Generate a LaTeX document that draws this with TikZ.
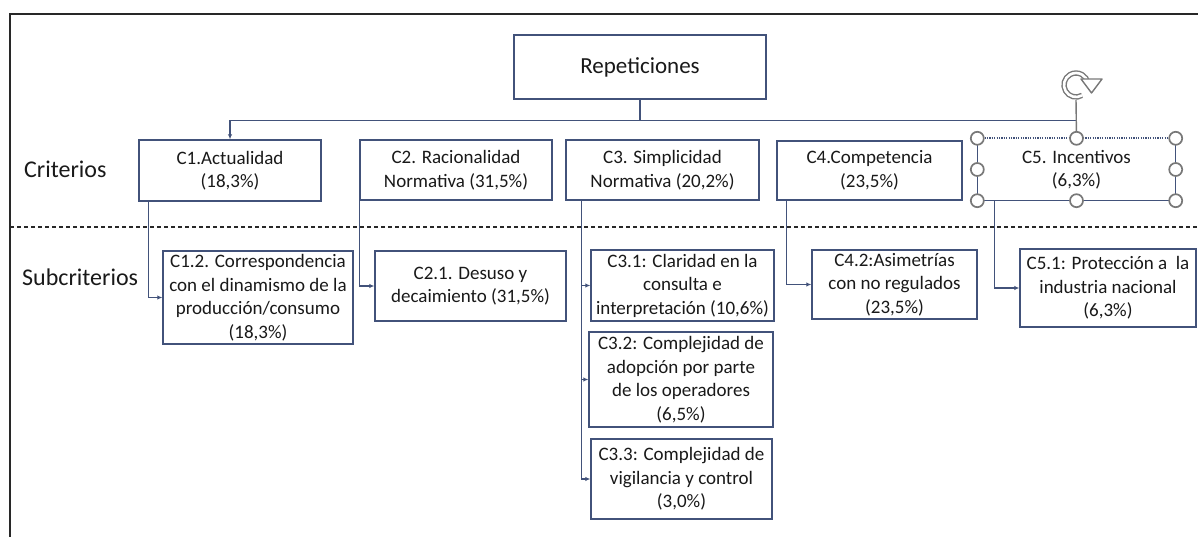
\documentclass[tikz,border=0pt]{standalone}
\usepackage{fontspec}
\setmainfont{Carlito}
\usetikzlibrary{arrows.meta}
\definecolor{ln}{RGB}{66,82,122}
\definecolor{tx}{RGB}{25,25,25}
\definecolor{hd}{RGB}{120,120,120}
\definecolor{fr}{RGB}{40,40,40}
\begin{document}
\begin{tikzpicture}[x=1pt,y=-1pt,
  box/.style={draw=ln, line width=1.4pt, fill=white, inner sep=0pt, align=center, text=tx, font=\fontsize{19}{23.5}\selectfont},
  conn/.style={draw=ln, line width=1.4pt, -{Latex[length=5pt,width=4.5pt]}},
  lbl/.style={text=tx, font=\fontsize{24}{28}\selectfont, anchor=west, inner sep=0pt},
  handle/.style={circle, draw=hd, line width=1.7pt, fill=white, minimum size=13pt, inner sep=0pt},
  sep/.style={draw=fr, line width=1.1pt, dash pattern=on 4pt off 3pt}]
\useasboundingbox (0,0) rectangle (1198,537);
% frame
\draw[fr, line width=2pt] (10,537) -- (10,14) -- (1198,14);
% separator
\draw[sep] (10,227) -- (1198,227);
% labels
\node[lbl] (lc) at (24,169) {Criterios};
\node[lbl] (ls) at (22,277) {Subcriterios};
% root
\node[box, minimum width=252pt, minimum height=64pt, font=\fontsize{23}{27}\selectfont] (R) at (640,67) {Repeticiones};
% criteria
\node[box, minimum width=182pt, minimum height=61pt] (C1) at (230,170.5) {C1.Actualidad\\(18,3\%)};
\node[box, minimum width=192pt, minimum height=60pt] (C2) at (456,170) {C2. Racionalidad\\Normativa (31,5\%)};
\node[box, minimum width=193pt, minimum height=60pt] (C3) at (662.5,170) {C3. Simplicidad\\Normativa (20,2\%)};
\node[box, minimum width=185pt, minimum height=59pt] (C4) at (869.5,170.5) {C4.Competencia\\(23,5\%)};
\node[box, draw=none, minimum width=197pt, minimum height=61pt] (C5) at (1076.5,169.5) {C5. Incentivos\\(6,3\%)};
% subcriteria
\node[box, minimum width=190pt, minimum height=93pt] (C12) at (258,297.5) {C1.2. Correspondencia\\con el dinamismo de la\\producción/consumo\\(18,3\%)};
\node[box, minimum width=191pt, minimum height=70pt] (C21) at (470.5,286) {C2.1. Desuso y\\decaimiento (31,5\%)};
\node[box, minimum width=183pt, minimum height=71pt] (C31) at (682.5,285.5) {C3.1: Claridad en la\\consulta e\\interpretación (10,6\%)};
\node[box, minimum width=184pt, minimum height=95pt] (C32) at (681,379.5) {C3.2: Complejidad de\\adopción por parte\\de los operadores\\(6,5\%)};
\node[box, minimum width=181pt, minimum height=80pt] (C33) at (681.5,479) {C3.3: Complejidad de\\vigilancia y control\\(3,0\%)};
\node[box, minimum width=165pt, minimum height=69pt] (C42) at (894.5,284.5) {C4.2:Asimetrías\\con no regulados\\(23,5\%)};
\node[box, minimum width=176pt, minimum height=78pt] (C51) at (1108,288) {C5.1: Protección a\ \ la\\industria nacional\\(6,3\%)};
% connectors from root
\draw[conn] (R.south) -- ++(0,21) -| (C1.north);
\draw[conn] (R.south) -- ++(0,21) -| (C5.north);
% connectors to subcriteria
\draw[conn] ([xshift=10pt]C1.south west) |- (C12.west);
\draw[conn] (C2.south west) |- (C21.west);
\draw[conn] ([xshift=16pt]C3.south west) |- (C31.west);
\draw[conn] ([xshift=16pt]C3.south west) |- (C32.west);
\draw[conn] ([xshift=16pt]C3.south west) |- (C33.west);
\draw[conn] ([xshift=10pt]C4.south west) |- (C42.west);
\draw[conn] ([xshift=17pt]C5.south west) |- (C51.west);
% selected C5 frame
\draw[ln, line width=1.4pt] (C5.north west) -- (C5.south west) -- (C5.south east) -- (C5.north east);
\draw[ln, line width=1.6pt, dash pattern=on 1.2pt off 1.2pt] (C5.north west) -- (C5.north east);
% rotation handle
\coordinate (rot) at (1076,85);
\draw[hd, line width=1.4pt] (C5.north) -- (1076,100);
\draw[hd, line width=1.4pt, double=white, double distance=2.6pt] (rot) ++(60:12) arc[start angle=60, end angle=350, radius=12];
\draw[hd, line width=1.4pt, fill=white, line join=round] (1081,79) -- (1102,79) -- (1091.5,93) -- cycle;
% handles
\node[handle] (h1) at (C5.north west) {};
\node[handle] (h2) at (C5.north) {};
\node[handle] (h3) at (C5.north east) {};
\node[handle] (h4) at (C5.west) {};
\node[handle] (h5) at (C5.east) {};
\node[handle] (h6) at (C5.south west) {};
\node[handle] (h7) at (C5.south) {};
\node[handle] (h8) at (C5.south east) {};
\end{tikzpicture}
\end{document}
